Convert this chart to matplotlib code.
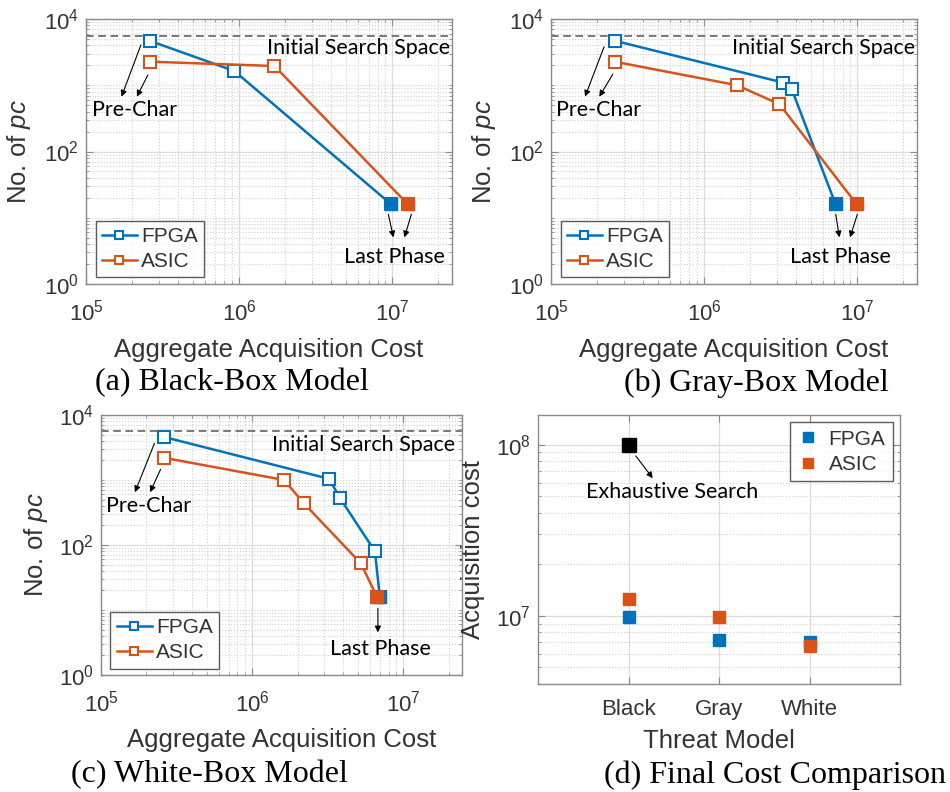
"""Phase-by-phase search-space reduction vs. acquisition cost, plus final cost per threat model."""
import matplotlib
matplotlib.use("Agg")
import matplotlib.pyplot as plt
from matplotlib.ticker import FixedLocator, NullFormatter, LogFormatterSciNotation

plt.rcParams["font.family"] = ["Liberation Sans", "DejaVu Sans"]
plt.rcParams["mathtext.fontset"] = "custom"
plt.rcParams["mathtext.rm"] = "Liberation Sans"
plt.rcParams["mathtext.it"] = "Liberation Sans:italic"

C_FPGA = "#0072BD"
C_ASIC = "#D95319"
C_INK = "#333333"
C_FRAME = "#8a8a8a"
NOTE_FONT = "Lato"
CAP_FONT = "Liberation Serif"
FS_LABEL = 18.5
FS_TICK = 16
FS_LEG = 15
FS_NOTE = 15.5
FS_CAP = 23

# initial number of candidate pcs
INITIAL_SPACE = 5600

# black-box: (aggregate cost, remaining pcs) after each phase
black_fpga_cost = [2.6e5, 9.3e5, 9.8e6]
black_fpga_pc = [4700, 1640, 16]
black_asic_cost = [2.6e5, 1.7e6, 1.26e7]
black_asic_pc = [2270, 1950, 16]

# gray-box
gray_fpga_cost = [2.6e5, 3.26e6, 3.73e6, 7.2e6]
gray_fpga_pc = [4700, 1100, 870, 16]
gray_asic_cost = [2.6e5, 1.64e6, 3.1e6, 9.9e6]
gray_asic_pc = [2270, 1000, 517, 16]

# white-box
white_fpga_cost = [2.6e5, 3.24e6, 3.83e6, 6.5e6, 7.0e6]
white_fpga_pc = [4600, 1040, 520, 80, 16]
white_asic_cost = [2.6e5, 1.63e6, 2.19e6, 5.25e6, 6.7e6]
white_asic_pc = [2200, 1000, 443, 52, 16]

# final comparison
threat_models = ["Black", "Gray", "White"]
final_fpga = [black_fpga_cost[-1], gray_fpga_cost[-1], white_fpga_cost[-1]]
final_asic = [black_asic_cost[-1], gray_asic_cost[-1], white_asic_cost[-1]]
exhaustive_cost = 1e8

W, H = 950, 792
fig = plt.figure(figsize=(W / 100, H / 100), dpi=100)


def px_rect(left, top, right, bottom):
    return [left / W, 1 - bottom / H, (right - left) / W, (bottom - top) / H]


def arrow(ax, start, end):
    ax.annotate("", xy=end, xytext=start, xycoords="axes fraction", textcoords="axes fraction",
                arrowprops=dict(arrowstyle="-|>", color="black", lw=0.8, mutation_scale=9,
                                shrinkA=0, shrinkB=0))


def style_axes(ax):
    for s in ax.spines.values():
        s.set_color(C_FRAME)
        s.set_linewidth(1.0)
    ax.tick_params(which="both", direction="in", top=True, right=True, colors=C_FRAME,
                   labelcolor=C_INK, labelsize=FS_TICK)
    ax.tick_params(which="major", length=5)
    ax.tick_params(which="minor", length=2.5)
    ax.grid(which="major", color="#dcdcdc", lw=0.9, ls="-")
    ax.grid(which="minor", color="#d0d0d0", lw=0.8, ls=":")
    ax.set_axisbelow(True)


def log_minor(lo_exp, hi_exp, majors):
    vals = [k * 10.0 ** e for e in range(lo_exp, hi_exp) for k in range(1, 10)]
    return [v for v in vals if v not in majors]


def boxed_legend(ax, **kw):
    leg = ax.legend(fontsize=FS_LEG, frameon=True, fancybox=False, borderaxespad=0, **kw)
    leg.get_frame().set_edgecolor("#333333")
    leg.get_frame().set_linewidth(1.0)
    for t in leg.get_texts():
        t.set_color(C_INK)
    return leg


def trace_panel(rect, fx, fy, ax_, ay, caption, cap_xy, notes, ylab_x):
    ax = fig.add_axes(rect)
    style_axes(ax)
    ax.set_xscale("log")
    ax.set_yscale("log")
    ax.set_xlim(1e5, 2.45e7)
    ax.set_ylim(1, 1e4)
    ax.xaxis.set_major_locator(FixedLocator([1e5, 1e6, 1e7]))
    ax.xaxis.set_minor_locator(FixedLocator(log_minor(5, 8, [1e5, 1e6, 1e7])))
    ax.yaxis.set_major_locator(FixedLocator([1, 1e2, 1e4]))
    ax.yaxis.set_minor_locator(FixedLocator(log_minor(0, 4, [1, 1e2, 1e4])))
    ax.xaxis.set_major_formatter(LogFormatterSciNotation())
    ax.yaxis.set_major_formatter(LogFormatterSciNotation())
    ax.xaxis.set_minor_formatter(NullFormatter())
    ax.yaxis.set_minor_formatter(NullFormatter())
    ax.tick_params(axis="x", which="major", pad=11)
    ax.tick_params(axis="y", which="major", pad=5)

    ax.axhline(INITIAL_SPACE, color="#555555", lw=1.1, ls=(0, (5, 3)), zorder=2)
    for xs, ys, c, lab in ((fx, fy, C_FPGA, "FPGA"), (ax_, ay, C_ASIC, "ASIC")):
        ax.plot(xs, ys, color=c, lw=1.8, marker="s", ms=8, mfc="white", mec=c, mew=1.5,
                label=lab, zorder=3)
        ax.plot(xs[-1:], ys[-1:], ls="none", marker="s", ms=8, mfc=c, mec=c, zorder=4)

    ax.text(notes["init"][0], notes["init"][1], "Initial Search Space", transform=ax.transAxes,
            ha="right", va="center", fontsize=FS_NOTE, family=NOTE_FONT, color="black")
    ax.text(*notes["pre"], "Pre-Char", transform=ax.transAxes, ha="center", va="center",
            fontsize=FS_NOTE, family=NOTE_FONT, color="black")
    ax.text(*notes["last"], "Last Phase", transform=ax.transAxes, ha="center", va="center",
            fontsize=FS_NOTE, family=NOTE_FONT, color="black")
    for a in notes["arrows"]:
        arrow(ax, *a)

    boxed_legend(ax, loc="lower left", bbox_to_anchor=(0.026, 0.025), borderpad=0.3,
                 labelspacing=0.3, handlelength=1.7, handletextpad=0.2, markerscale=0.8)

    ax.set_xlabel("Aggregate Acquisition Cost", fontsize=FS_LABEL, color=C_INK)
    ax.set_ylabel(r"No. of $\mathit{pc}$", fontsize=FS_LABEL, color=C_INK)
    ax.xaxis.set_label_coords(0.5, -0.205)
    ax.yaxis.set_label_coords(ylab_x, 0.5)
    fig.text(cap_xy[0] / W, 1 - cap_xy[1] / H, caption, ha="center", va="center",
             fontsize=FS_CAP, family=CAP_FONT, color="black")
    return ax


trace_panel(px_rect(86, 19, 452, 284), black_fpga_cost, black_fpga_pc,
            black_asic_cost, black_asic_pc, "(a) Black-Box Model", (232, 383),
            dict(init=(0.996, 0.892), pre=(0.134, 0.657), last=(0.843, 0.103),
                 arrows=[((0.150, 0.902), (0.097, 0.707)), ((0.169, 0.789), (0.139, 0.707)),
                         ((0.826, 0.263), (0.840, 0.176)), ((0.889, 0.263), (0.870, 0.176))]),
            -0.145)

trace_panel(px_rect(551, 19, 917, 284), gray_fpga_cost, gray_fpga_pc,
            gray_asic_cost, gray_asic_pc, "(b) Gray-Box Model", (756, 383),
            dict(init=(0.996, 0.892), pre=(0.129, 0.657), last=(0.792, 0.103),
                 arrows=[((0.145, 0.895), (0.093, 0.707)), ((0.169, 0.792), (0.132, 0.707)),
                         ((0.778, 0.263), (0.788, 0.176)), ((0.837, 0.263), (0.817, 0.176))]),
            -0.145)

trace_panel(px_rect(101, 415, 462, 675), white_fpga_cost, white_fpga_pc,
            white_asic_cost, white_asic_pc, "(c) White-Box Model", (209, 775),
            dict(init=(0.980, 0.885), pre=(0.131, 0.650), last=(0.773, 0.100),
                 arrows=[((0.148, 0.891), (0.094, 0.703)), ((0.165, 0.791), (0.136, 0.703)),
                         ((0.767, 0.257), (0.767, 0.164))]),
            -0.141)

# (d) final cost per threat model
ax = fig.add_axes(px_rect(538, 415, 900, 684))
style_axes(ax)
ax.set_yscale("log")
ax.set_xlim(0, 4)
ax.set_ylim(4e6, 1.49e8)
pos = [1, 2, 3]
ax.set_xticks(pos)
ax.set_xticklabels(threat_models)
ax.xaxis.set_minor_locator(FixedLocator([]))
ax.yaxis.set_major_locator(FixedLocator([1e7, 1e8]))
ax.yaxis.set_minor_locator(FixedLocator(log_minor(6, 8, [1e7, 1e8])))
ax.yaxis.set_major_formatter(LogFormatterSciNotation())
ax.yaxis.set_minor_formatter(NullFormatter())
ax.tick_params(axis="x", which="major", pad=11)
ax.tick_params(axis="y", which="major", pad=5)
ax.plot(pos, final_fpga, ls="none", marker="s", ms=9, color=C_FPGA, label="FPGA", zorder=3)
ax.plot(pos, final_asic, ls="none", marker="s", ms=9, color=C_ASIC, label="ASIC", zorder=4)
ax.plot([pos[0]], [exhaustive_cost], ls="none", marker="s", ms=10, color="black", zorder=4)
ax.text(0.371, 0.713, "Exhaustive Search", transform=ax.transAxes, ha="center", va="center",
        fontsize=FS_NOTE, family=NOTE_FONT, color="black")
arrow(ax, (0.270, 0.848), (0.317, 0.765))
boxed_legend(ax, loc="upper right", bbox_to_anchor=(0.98, 0.973), borderpad=0.35,
             labelspacing=0.3, handlelength=1.0, handletextpad=0.5, markerscale=0.75)
ax.set_xlabel("Threat Model", fontsize=FS_LABEL, color=C_INK)
ax.set_ylabel("Acquisition cost", fontsize=FS_LABEL, color=C_INK)
ax.xaxis.set_label_coords(0.5, -0.167)
ax.yaxis.set_label_coords(-0.146, 0.5)
fig.text(775 / W, 1 - 775 / H, "(d) Final Cost Comparison", ha="center", va="center",
         fontsize=FS_CAP, family=CAP_FONT, color="black")

fig.savefig("out.png", dpi=100, facecolor="white")
